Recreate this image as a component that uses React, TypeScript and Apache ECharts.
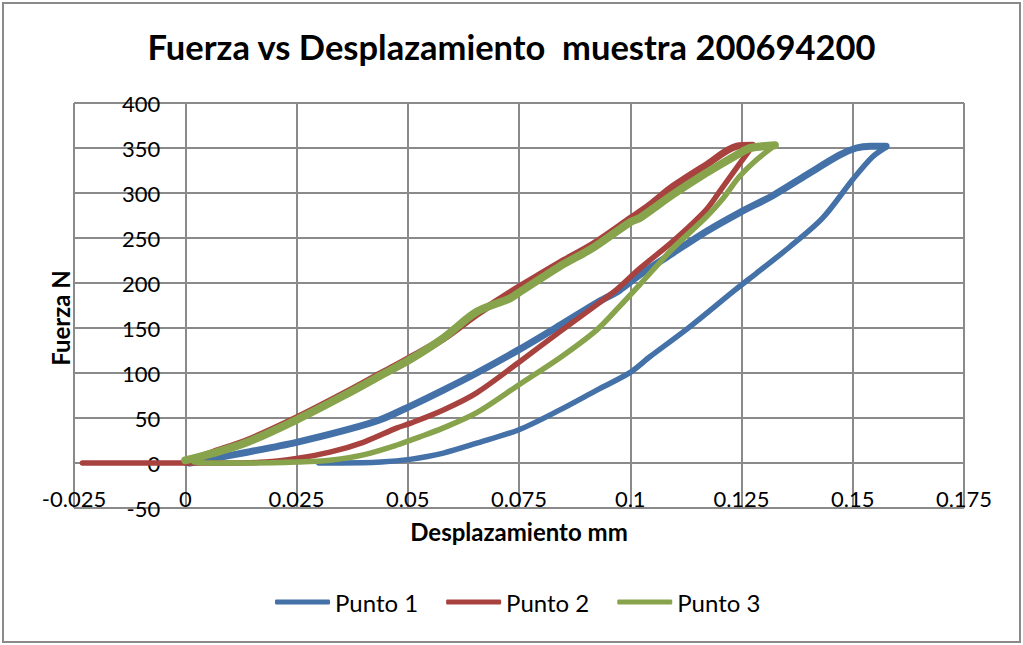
import React, { useEffect, useRef } from "react";
import * as echarts from "echarts";

const TITLE = "Fuerza vs Desplazamiento  muestra 200694200";
const X_NAME = "Desplazamiento mm";
const Y_NAME = "Fuerza N";
const SERIES_NAMES = ["Punto 1", "Punto 2", "Punto 3"];
const COLORS = ["#4371A8", "#A8423F", "#87A34B"];

// Punto 1 (blue): upper branch (x ascending) and lower branch (x descending from peak)
const p1UpperX = [0.001, 0.0063, 0.0139, 0.025, 0.0364, 0.0438, 0.0505, 0.058, 0.0655, 0.075, 0.0842, 0.0925, 0.0976, 0.1021, 0.1095, 0.117, 0.1245, 0.132, 0.1396, 0.147, 0.1508, 0.154, 0.1575];
const p1UpperY = [0, 5, 12, 23, 37, 48, 63, 81, 100, 126, 153, 178, 192, 209, 233, 257, 278, 297, 320, 342, 350, 352, 352];
const p1LowerX = [0.1575, 0.1544, 0.15, 0.1432, 0.1358, 0.1284, 0.1235, 0.1133, 0.1044, 0.1001, 0.0925, 0.0842, 0.075, 0.0655, 0.058, 0.0505, 0.044, 0.035, 0.03];
const p1LowerY = [351, 340, 315, 272, 240, 211, 192, 151, 118, 101, 81, 59, 37, 22, 11, 4, 1, 0, 0];

// Punto 2 (red)
const p2LowerX = [-0.0231, 0, 0.003, 0.01, 0.018, 0.025, 0.0325, 0.04, 0.0476, 0.0505, 0.058, 0.0655, 0.075, 0.0842, 0.0925, 0.097, 0.1021, 0.1095, 0.117, 0.1207, 0.1245, 0.1275];
const p2LowerY = [0, 0, 0, 0, 1, 5, 12, 23, 39, 44, 59, 78, 112, 146, 176, 193, 216, 246, 281, 306, 332, 352];
const p2UpperX = [0.1275, 0.1239, 0.117, 0.1095, 0.1044, 0.1001, 0.0916, 0.084, 0.0752, 0.0707, 0.0655, 0.058, 0.0505, 0.0438, 0.0364, 0.025, 0.0139, 0.0063, 0];
const p2UpperY = [353, 352, 331, 307, 287, 272, 243, 222, 196, 182, 165, 138, 117, 99, 79, 50, 25, 12, 1];

// Punto 3 (green)
const p3LowerX = [0.002, 0.005, 0.015, 0.025, 0.0325, 0.04, 0.0476, 0.0527, 0.058, 0.0655, 0.075, 0.0842, 0.0925, 0.0976, 0.1021, 0.1095, 0.117, 0.1207, 0.1245, 0.1284, 0.1325];
const p3LowerY = [1, 0, 0, 1, 3, 9, 20, 29, 39, 56, 87, 117, 148, 174, 198, 238, 273, 293, 318, 337, 353];
const p3UpperX = [0.1325, 0.127, 0.1245, 0.117, 0.1095, 0.1021, 0.1001, 0.0916, 0.084, 0.0752, 0.073, 0.0655, 0.058, 0.0505, 0.0438, 0.0364, 0.025, 0.0139, 0.0063, 0];
const p3UpperY = [353, 350, 344, 322, 298, 272, 268, 239, 218, 190, 183, 168, 139, 115, 97, 77, 48, 23, 11, 3];

const zip = (xs: number[], ys: number[]) => xs.map((x, i) => [x, ys[i]]);

const FONT = "Lato, 'Open Sans', sans-serif";

export default function App() {
  const ref = useRef<HTMLDivElement>(null);
  useEffect(() => {
    document.body.style.margin = "0";
    if (!ref.current) return;
    const chart = echarts.init(ref.current, null, { renderer: "svg" });
    const mk = (name: string, color: string, data: number[][], width: number) => ({
      name,
      type: "line",
      data,
      showSymbol: false,
      symbol: "none",
      smooth: 0.3,
      lineStyle: { color, width, cap: "round", join: "round" },
      itemStyle: { color },
      z: 3,
    });
    const gridColor = "#8a8a8a";
    chart.setOption({
      animation: false,
      backgroundColor: "#ffffff",
      title: {
        text: TITLE,
        left: "center",
        top: 24,
        textStyle: { fontFamily: FONT, fontWeight: "bold", fontSize: 34.5, color: "#000" },
      },
      grid: { left: 74, top: 103, width: 890, height: 405, containLabel: false },
      xAxis: {
        type: "value",
        min: -0.025,
        max: 0.175,
        interval: 0.025,
        offset: -45,
        axisLine: { show: true, onZero: false, lineStyle: { color: gridColor, width: 2 } },
        axisTick: { show: false },
        axisLabel: {
          margin: 24,
          fontFamily: FONT,
          fontSize: 22,
          color: "#000",
          formatter: (v: number) => String(Math.round(v * 1000) / 1000),
        },
        splitLine: { show: true, lineStyle: { color: gridColor, width: 2 } },
      },
      yAxis: {
        type: "value",
        min: -50,
        max: 400,
        interval: 50,
        offset: -111.25,
        axisLine: { show: true, onZero: false, lineStyle: { color: gridColor, width: 2 } },
        axisTick: { show: false },
        axisLabel: { margin: 25, fontFamily: FONT, fontSize: 22, color: "#000" },
        splitLine: { show: true, lineStyle: { color: gridColor, width: 2 } },
      },
      legend: {
        data: SERIES_NAMES,
        left: 270,
        top: 585,
        icon: "roundRect",
        itemWidth: 55,
        itemHeight: 5,
        itemGap: 28,
        textStyle: { fontFamily: FONT, fontSize: 24, color: "#000" },
      },
      series: [
        mk(SERIES_NAMES[0], COLORS[0], zip(p1UpperX, p1UpperY), 7),
        mk(SERIES_NAMES[0], COLORS[0], zip(p1LowerX, p1LowerY), 5.5),
        mk(SERIES_NAMES[1], COLORS[1], zip(p2LowerX, p2LowerY), 5.5),
        mk(SERIES_NAMES[1], COLORS[1], zip(p2UpperX, p2UpperY), 7),
        mk(SERIES_NAMES[2], COLORS[2], zip(p3LowerX, p3LowerY), 5.5),
        mk(SERIES_NAMES[2], COLORS[2], zip(p3UpperX, p3UpperY), 8),
      ],
      graphic: [
        {
          type: "rect",
          shape: { x: 3, y: 3, width: 1017, height: 639 },
          style: { fill: "none", stroke: "#8a8a8a", lineWidth: 2 },
          silent: true,
        },
        {
          type: "text",
          x: 519,
          y: 531,
          style: {
            text: X_NAME,
            fontFamily: FONT,
            fontWeight: "bold",
            fontSize: 24,
            fill: "#000",
            align: "center",
            verticalAlign: "middle",
          },
        },
        {
          type: "text",
          x: 60,
          y: 318,
          rotation: Math.PI / 2,
          style: {
            text: Y_NAME,
            fontFamily: FONT,
            fontWeight: "bold",
            fontSize: 24,
            fill: "#000",
            align: "center",
            verticalAlign: "middle",
          },
        },
      ],
    });
    return () => chart.dispose();
  }, []);
  return <div ref={ref} style={{ width: 1023, height: 645 }} />;
}
